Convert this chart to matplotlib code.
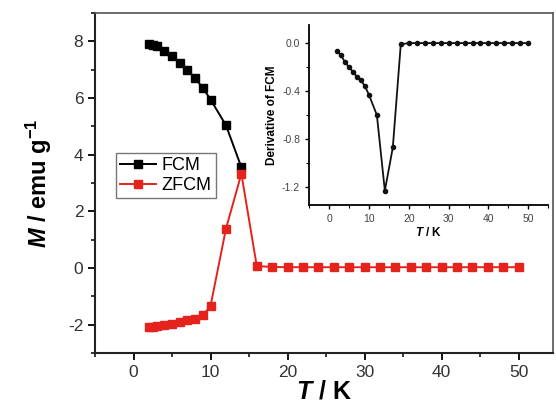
import numpy as np
import matplotlib.pyplot as plt
from matplotlib.ticker import MultipleLocator

plt.rcParams['font.family'] = ['Liberation Sans', 'DejaVu Sans']
plt.rcParams['axes.unicode_minus'] = False
plt.rcParams['mathtext.fontset'] = 'custom'
plt.rcParams['mathtext.rm'] = 'Liberation Sans'
plt.rcParams['mathtext.it'] = 'Liberation Sans:italic'
plt.rcParams['mathtext.bf'] = 'Liberation Sans:bold'
plt.rcParams['mathtext.bfit'] = 'Liberation Sans:bold:italic'

# FCM / ZFCM magnetisation (emu/g) vs temperature (K)
t_fcm = [2, 2.5, 3, 4, 5, 6, 7, 8, 9, 10, 12, 14]
m_fcm = [7.90, 7.88, 7.84, 7.67, 7.48, 7.24, 7.00, 6.70, 6.36, 5.95, 5.04, 3.56]

t_zfcm = [2, 2.5, 3, 4, 5, 6, 7, 8, 9, 10, 12, 14, 16, 18, 20, 22, 24, 26, 28,
          30, 32, 34, 36, 38, 40, 42, 44, 46, 48, 50]
m_zfcm = [-2.08, -2.07, -2.05, -2.02, -1.97, -1.91, -1.85, -1.79, -1.67, -1.33,
          1.39, 3.33, 0.07, 0.04, 0.03, 0.03, 0.03, 0.03, 0.03, 0.03, 0.03, 0.03,
          0.03, 0.03, 0.03, 0.03, 0.03, 0.03, 0.03, 0.03]

# derivative of FCM (inset)
t_der = [2, 3, 4, 5, 6, 7, 8, 9, 10, 12, 14, 16, 18, 20, 22, 24, 26, 28, 30,
         32, 34, 36, 38, 40, 42, 44, 46, 48, 50]
d_der = [-0.07, -0.10, -0.16, -0.20, -0.24, -0.28, -0.31, -0.36, -0.43, -0.60,
         -1.23, -0.87, -0.01, 0.0, 0.0, 0.0, 0.0, 0.0, 0.0, 0.0, 0.0, 0.0, 0.0,
         0.0, 0.0, 0.0, 0.0, 0.0, 0.0]

red = '#e4241c'

fig = plt.figure(figsize=(5.56, 4.11), dpi=100)
ax = fig.add_axes([0.171, 0.141, 0.824, 0.827])

ax.plot(t_fcm, m_fcm, '-s', color='black', ms=6, lw=1.4, label='FCM')
ax.plot(t_zfcm, m_zfcm, '-s', color=red, ms=6, lw=1.4, label='ZFCM')

ax.set_xlim(-5, 54.5)
ax.set_ylim(-3, 9)
ax.xaxis.set_major_locator(MultipleLocator(10))
ax.xaxis.set_minor_locator(MultipleLocator(5))
ax.yaxis.set_major_locator(MultipleLocator(2))
ax.yaxis.set_minor_locator(MultipleLocator(1))
ax.tick_params(which='major', direction='out', length=5, width=1.3, labelsize=12.5,
               labelcolor='#333333')
ax.tick_params(which='minor', direction='out', length=3, width=1.1)
for s in ax.spines.values():
    s.set_linewidth(1.5)
    s.set_color('#222222')
for s in ['top', 'right']:
    ax.spines[s].set_color('#555555')
    ax.spines[s].set_linewidth(1.2)

ax.set_xlabel(r'$\bfit{T}$ / K', fontsize=18, fontweight='bold', labelpad=0)
ax.set_ylabel(r'$\bfit{M}$ / emu g$^{\mathbf{-1}}$', fontsize=17, fontweight='bold', labelpad=10)

ax.legend(loc='lower left', bbox_to_anchor=(0.045, 0.455), fontsize=13,
          frameon=True, fancybox=False, edgecolor='#555555', handlelength=2.0,
          borderpad=0.25, labelspacing=0.15, handletextpad=0.3, borderaxespad=0)

# inset
ins = fig.add_axes([0.556, 0.501, 0.43, 0.438])
ins.plot(t_der, d_der, '-o', color='#111111', ms=3, lw=1.3)
ins.set_xlim(-5, 55)
ins.set_ylim(-1.35, 0.15)
ins.xaxis.set_major_locator(MultipleLocator(10))
ins.xaxis.set_minor_locator(MultipleLocator(5))
ins.yaxis.set_minor_locator(MultipleLocator(0.2))
ins.set_yticks([0.0, -0.4, -0.8, -1.2])
ins.set_yticklabels(['0.0', '-0.4', '-0.8', '-1.2'])
ins.tick_params(which='major', direction='out', length=3, width=1, labelsize=7.5,
                labelcolor='#444444')
ins.tick_params(which='minor', direction='out', length=2, width=0.8)
for s in ['top', 'right']:
    ins.spines[s].set_visible(False)
for s in ['left', 'bottom']:
    ins.spines[s].set_linewidth(1.3)
ins.set_xlabel(r'$\bfit{T}$ / K', fontsize=8.5, fontweight='bold', labelpad=1)
ins.set_ylabel('Derivative of FCM', fontsize=8.5, fontweight='bold', labelpad=3)

fig.savefig('out.png', dpi=100)
